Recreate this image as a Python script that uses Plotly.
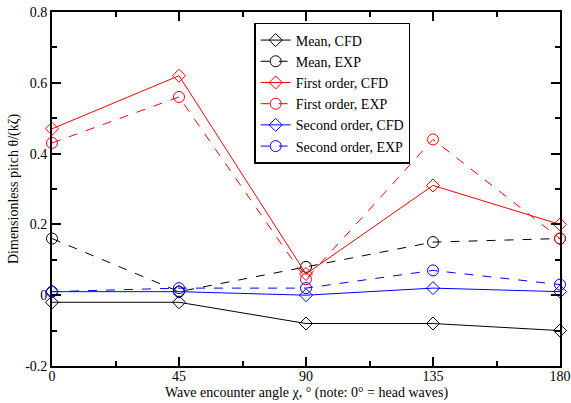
import plotly.graph_objects as go

angles = [0, 45, 90, 135, 180]
mean_cfd = [-0.02, -0.02, -0.08, -0.08, -0.10]
mean_exp = [0.16, 0.01, 0.08, 0.15, 0.16]
first_cfd = [0.47, 0.62, 0.06, 0.31, 0.20]
first_exp = [0.43, 0.56, 0.045, 0.44, 0.16]
second_cfd = [0.01, 0.01, 0.00, 0.02, 0.01]
second_exp = [0.01, 0.02, 0.02, 0.07, 0.03]

x_ticks = [0, 45, 90, 135, 180]
y_ticks = [-0.2, 0, 0.2, 0.4, 0.6, 0.8]
y_tick_text = ["-0.2", "0", "0.2", "0.4", "0.6", "0.8"]
x_title = "Wave encounter angle χ, ° (note: 0° = head waves)"
y_title = "Dimensionless pitch θ/(kζ)"

series = [
    ("Mean, CFD", mean_cfd, "black", "solid", "diamond-open", 10),
    ("Mean, EXP", mean_exp, "black", "dash", "circle-open", 11),
    ("First order, CFD", first_cfd, "red", "solid", "diamond-open", 10),
    ("First order, EXP", first_exp, "red", "dash", "circle-open", 11),
    ("Second order, CFD", second_cfd, "blue", "solid", "diamond-open", 10),
    ("Second order, EXP", second_exp, "blue", "dash", "circle-open", 11),
]

fig = go.Figure()
for name, vals, col, dash, sym, sz in series:
    fig.add_trace(go.Scatter(
        x=angles, y=vals, name=name, mode="lines+markers",
        line=dict(color=col, width=1, dash=dash),
        marker=dict(symbol=sym, size=sz, color=col, line=dict(width=1, color=col)),
        cliponaxis=False,
    ))

font = "Liberation Serif"
axis_common = dict(
    showline=True, linecolor="black", linewidth=1.8, mirror="ticks",
    ticks="inside", ticklen=9, tickwidth=1.5, tickcolor="black",
    showgrid=False, zeroline=False, automargin=False,
    ticklabeloverflow="allow",
    tickfont=dict(family=font, size=14, color="black"),
)

fig.update_layout(
    width=571, height=403,
    margin=dict(l=52, r=11, t=12, b=37),
    paper_bgcolor="white", plot_bgcolor="white",
    font=dict(family=font, size=14, color="black"),
    xaxis=dict(
        range=[0, 180], tickvals=x_ticks, ticklabelstandoff=-4,
        minor=dict(ticks="inside", ticklen=5, tickwidth=1.5, tickcolor="black", dtick=22.5, tick0=0),
        **axis_common,
    ),
    yaxis=dict(
        range=[-0.2, 0.8], tickvals=y_ticks, ticktext=y_tick_text,
        minor=dict(ticks="inside", ticklen=5, tickwidth=1.5, tickcolor="black", dtick=0.1, tick0=0),
        **axis_common,
    ),
    legend=dict(
        x=0.398, y=0.969, xanchor="left", yanchor="top",
        bgcolor="white", bordercolor="black", borderwidth=1.5,
        font=dict(family=font, size=14, color="black"),
        tracegroupgap=0, itemwidth=30,
    ),
    annotations=[
        dict(text=x_title, xref="paper", yref="paper", x=0.5, y=0, yshift=-27,
             xanchor="center", yanchor="middle", showarrow=False,
             font=dict(family=font, size=14, color="black")),
        dict(text=y_title, xref="paper", yref="paper", x=0, y=0.5, xshift=-38,
             xanchor="center", yanchor="middle", textangle=-90, showarrow=False,
             font=dict(family=font, size=14, color="black")),
    ],
)

fig.write_html("out.html", config={"displayModeBar": False},
               post_script="document.body.style.margin='0';document.body.style.padding='0';")
